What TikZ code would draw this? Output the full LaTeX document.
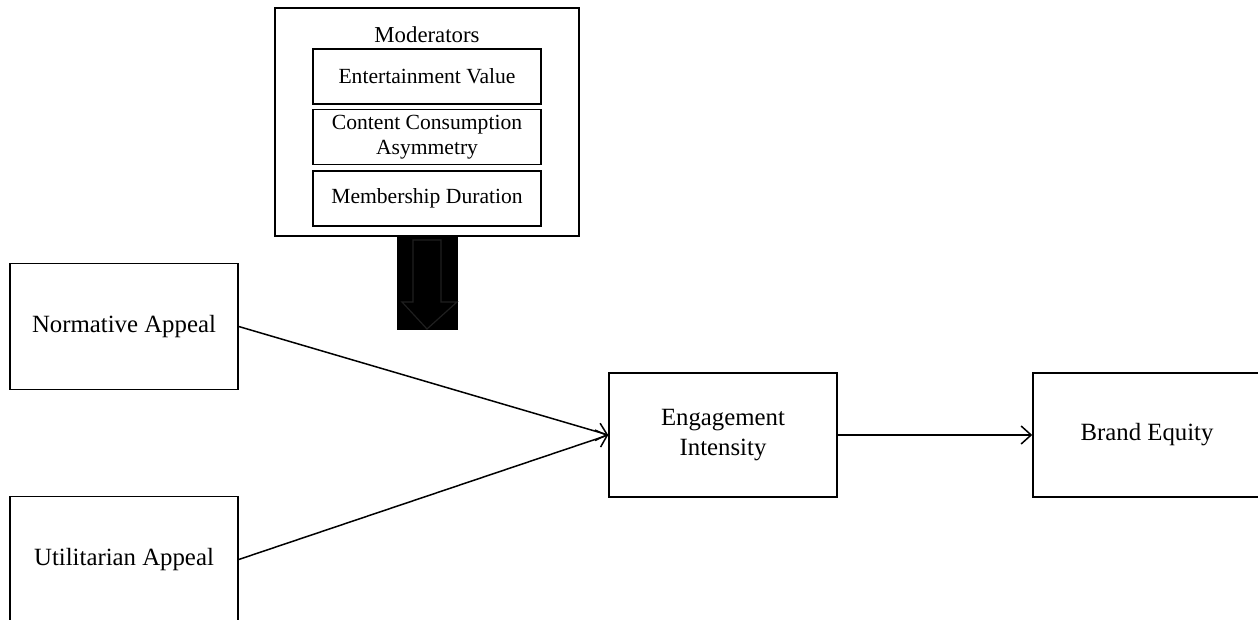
\documentclass[tikz,border=0pt]{standalone}
\usepackage{fontspec}
\setmainfont{Liberation Serif}
\usetikzlibrary{arrows.meta}

\tikzset{
  factor/.style={draw, line width=0.75pt, minimum width=114pt, minimum height=63pt,
    align=center, inner sep=2pt, font=\fontsize{12.4}{15}\selectfont},
  modbox/.style={draw, line width=0.75pt, minimum width=114pt, minimum height=27.5pt,
    align=center, inner sep=1pt, font=\fontsize{10.8}{12.5}\selectfont},
  path/.style={line width=0.75pt, -{Straight Barb[length=5pt,width=9pt,line width=0.75pt]}}
}

\begin{document}
\begin{tikzpicture}[x=0.5pt,y=-0.5pt]
\useasboundingbox (0,0) rectangle (1258,620);
\node[draw, line width=0.75pt, minimum width=152pt, minimum height=114pt] (mod) at (427,122) {};
\node[font=\fontsize{11.4}{13}\selectfont] (modlabel) at (427,35) {Moderators};
\node[modbox] (ent) at (427,76.5) {Entertainment Value};
\node[modbox] (asym) at (427,137) {Content Consumption\\Asymmetry};
\node[modbox] (dur) at (427,198.5) {Membership Duration};
\fill[black] (397,236) rectangle (458,330);
\draw[black!88!white, line width=0.6pt] (413,240) -- (441,240) -- (441,302) -- (457,302)
  -- (427,329) -- (402,302) -- (413,302) -- cycle;
\node[factor] (norm) at (124,326.5) {Normative Appeal};
\node[factor] (util) at (124,559.5) {Utilitarian Appeal};
\node[factor, minimum height=62pt] (eng) at (723,435) {Engagement\\Intensity};
\node[factor, minimum height=62pt] (brand) at (1147,435) {Brand Equity};
\draw[path] (norm.east) -- (eng.west);
\draw[path] (util.east) -- (eng.west);
\draw[path] (eng.east) -- (brand.west);
\end{tikzpicture}
\end{document}
